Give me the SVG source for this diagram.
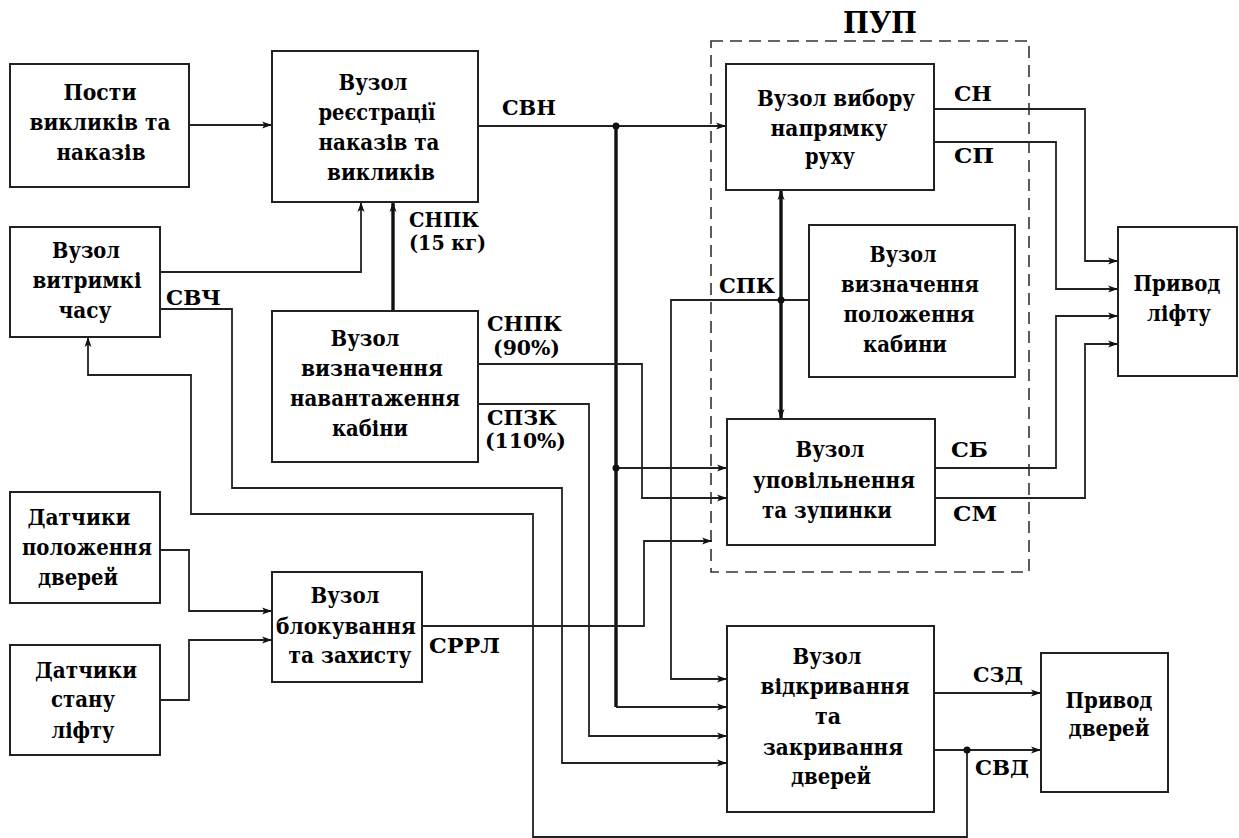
<svg xmlns="http://www.w3.org/2000/svg" width="1239" height="838" viewBox="0 0 1239 838">
  <style>
    .box { fill: #ffffff; stroke: #222222; stroke-width: 2; }
    .t { font-family: 'DejaVu Serif', 'Liberation Serif', serif; font-weight: 700; font-size: 22px; fill: #000000; text-anchor: middle; }
    .lbl { font-family: 'DejaVu Serif', 'Liberation Serif', serif; font-weight: 700; font-size: 21px; fill: #000000; }
    .title { font-family: 'DejaVu Serif', 'Liberation Serif', serif; font-weight: 700; font-size: 29px; fill: #000000; text-anchor: middle; }
    .w { fill: none; stroke: #222222; stroke-width: 1.8; }
    .bus { fill: none; stroke: #111111; stroke-width: 3.4; }
    .dot { fill: #111111; }
    .frame { fill: none; stroke: #333333; stroke-width: 1.6; stroke-dasharray: 12 7; }
  </style>
  <defs>
    <marker id="arr" viewBox="0 0 10 8" refX="10" refY="4" markerWidth="10" markerHeight="8" markerUnits="userSpaceOnUse" orient="auto-start-reverse">
      <path d="M0,0.5 L10,4 L0,7.5 L2.5,4 Z" fill="#111111"/>
    </marker>
  </defs>

  <rect width="1239" height="838" fill="#ffffff"/>

  <!-- control unit boundary -->
  <g id="pup">
    <rect class="frame" x="711" y="41" width="318" height="531"/>
    <text class="title" x="880" y="33" textLength="74" lengthAdjust="spacingAndGlyphs">ПУП</text>
  </g>

  <!-- connectors -->
  <g id="connectors">
    <path class="w" d="M189,125 H272" marker-end="url(#arr)"/>
    <path class="w" d="M478,126 H726" marker-end="url(#arr)"/>
    <path class="bus" d="M616,126 V707"/>
    <path class="w" d="M616,707 H727" marker-end="url(#arr)"/>
    <path class="w" d="M616,468 H727" marker-end="url(#arr)"/>
    <path class="w" d="M160,272 H361 V202" marker-end="url(#arr)"/>
    <path class="bus" d="M393,311 V202" marker-end="url(#arr)"/>
    <path class="w" d="M160,309 H232 V488 H562 V763 H727" marker-end="url(#arr)"/>
    <path class="w" d="M967,750 V837 H533 V514 H191 V375 H88 V337" marker-end="url(#arr)"/>
    <path class="w" d="M478,364 H642 V498 H727" marker-end="url(#arr)"/>
    <path class="w" d="M478,404 H589 V736 H727" marker-end="url(#arr)"/>
    <path class="w" d="M809,300 H671 V679 H727" marker-end="url(#arr)"/>
    <path class="bus" d="M781,190 V419" marker-start="url(#arr)" marker-end="url(#arr)"/>
    <path class="w" d="M934,109 H1085 V261 H1118" marker-end="url(#arr)"/>
    <path class="w" d="M934,142 H1056 V289 H1118" marker-end="url(#arr)"/>
    <path class="w" d="M935,468 H1056 V316 H1118" marker-end="url(#arr)"/>
    <path class="w" d="M935,498 H1085 V344 H1118" marker-end="url(#arr)"/>
    <path class="w" d="M422,626 H644 V541 H712" marker-end="url(#arr)"/>
    <path class="w" d="M160,550 H189 V611 H272" marker-end="url(#arr)"/>
    <path class="w" d="M160,700 H189 V640 H272" marker-end="url(#arr)"/>
    <path class="w" d="M934,693 H1041" marker-end="url(#arr)"/>
    <path class="w" d="M934,750 H1041" marker-end="url(#arr)"/>
    <circle class="dot" cx="616" cy="126" r="3.5"/>
    <circle class="dot" cx="616" cy="468" r="3.5"/>
    <circle class="dot" cx="781" cy="300" r="3.5"/>
    <circle class="dot" cx="967" cy="750" r="3.5"/>

    <!-- signal names -->
    <text class="lbl" x="502" y="115" textLength="54" lengthAdjust="spacingAndGlyphs">СВН</text>
    <text class="lbl" x="409" y="227" textLength="70" lengthAdjust="spacingAndGlyphs">СНПК</text>
    <text class="lbl" x="409" y="250" textLength="77" lengthAdjust="spacingAndGlyphs">(15 кг)</text>
    <text class="lbl" x="166" y="305" textLength="55" lengthAdjust="spacingAndGlyphs">СВЧ</text>
    <text class="lbl" x="487" y="331" textLength="75" lengthAdjust="spacingAndGlyphs">СНПК</text>
    <text class="lbl" x="493" y="355" textLength="67" lengthAdjust="spacingAndGlyphs">(90%)</text>
    <text class="lbl" x="487" y="425" textLength="70" lengthAdjust="spacingAndGlyphs">СПЗК</text>
    <text class="lbl" x="485" y="448" textLength="81" lengthAdjust="spacingAndGlyphs">(110%)</text>
    <text class="lbl" x="719" y="293" textLength="56" lengthAdjust="spacingAndGlyphs">СПК</text>
    <text class="lbl" x="954" y="101" textLength="38" lengthAdjust="spacingAndGlyphs">СН</text>
    <text class="lbl" x="954" y="163" textLength="40" lengthAdjust="spacingAndGlyphs">СП</text>
    <text class="lbl" x="951" y="457" textLength="37" lengthAdjust="spacingAndGlyphs">СБ</text>
    <text class="lbl" x="953" y="521" textLength="44" lengthAdjust="spacingAndGlyphs">СМ</text>
    <text class="lbl" x="429" y="653" textLength="71" lengthAdjust="spacingAndGlyphs">СРРЛ</text>
    <text class="lbl" x="973" y="682" textLength="50" lengthAdjust="spacingAndGlyphs">СЗД</text>
    <text class="lbl" x="975" y="775" textLength="54" lengthAdjust="spacingAndGlyphs">СВД</text>
  </g>

  <!-- blocks -->
  <g id="call-posts">
    <rect class="box" x="10" y="64" width="179" height="123"/>
    <text class="t" x="100" y="100" textLength="73" lengthAdjust="spacingAndGlyphs">Пости</text>
    <text class="t" x="100" y="130" textLength="141" lengthAdjust="spacingAndGlyphs">викликів та</text>
    <text class="t" x="101" y="160" textLength="89" lengthAdjust="spacingAndGlyphs">наказів</text>
  </g>

  <g id="registration">
    <rect class="box" x="272" y="51" width="206" height="151"/>
    <text class="t" x="373" y="90" textLength="69" lengthAdjust="spacingAndGlyphs">Вузол</text>
    <text class="t" x="377" y="120" textLength="117" lengthAdjust="spacingAndGlyphs">реєстрації</text>
    <text class="t" x="379" y="150" textLength="121" lengthAdjust="spacingAndGlyphs">наказів та</text>
    <text class="t" x="381" y="180" textLength="108" lengthAdjust="spacingAndGlyphs">викликів</text>
  </g>

  <g id="time-delay">
    <rect class="box" x="10" y="227" width="150" height="110"/>
    <text class="t" x="86" y="258" textLength="68" lengthAdjust="spacingAndGlyphs">Вузол</text>
    <text class="t" x="87" y="288" textLength="109" lengthAdjust="spacingAndGlyphs">витримкі</text>
    <text class="t" x="85" y="318" textLength="53" lengthAdjust="spacingAndGlyphs">часу</text>
  </g>

  <g id="load">
    <rect class="box" x="272" y="311" width="206" height="151"/>
    <text class="t" x="365" y="346" textLength="69" lengthAdjust="spacingAndGlyphs">Вузол</text>
    <text class="t" x="372" y="376" textLength="142" lengthAdjust="spacingAndGlyphs">визначення</text>
    <text class="t" x="375" y="406" textLength="170" lengthAdjust="spacingAndGlyphs">навантаження</text>
    <text class="t" x="370" y="436" textLength="76" lengthAdjust="spacingAndGlyphs">кабіни</text>
  </g>

  <g id="direction">
    <rect class="box" x="726" y="64" width="208" height="126"/>
    <text class="t" x="836" y="106" textLength="158" lengthAdjust="spacingAndGlyphs">Вузол вибору</text>
    <text class="t" x="829" y="136" textLength="117" lengthAdjust="spacingAndGlyphs">напрямку</text>
    <text class="t" x="830" y="164" textLength="50" lengthAdjust="spacingAndGlyphs">руху</text>
  </g>

  <g id="position">
    <rect class="box" x="809" y="225" width="206" height="152"/>
    <text class="t" x="903" y="262" textLength="67" lengthAdjust="spacingAndGlyphs">Вузол</text>
    <text class="t" x="910" y="292" textLength="138" lengthAdjust="spacingAndGlyphs">визначення</text>
    <text class="t" x="909" y="322" textLength="131" lengthAdjust="spacingAndGlyphs">положення</text>
    <text class="t" x="905" y="352" textLength="84" lengthAdjust="spacingAndGlyphs">кабини</text>
  </g>

  <g id="lift-drive">
    <rect class="box" x="1118" y="227" width="119" height="149"/>
    <text class="t" x="1177" y="291" textLength="87" lengthAdjust="spacingAndGlyphs">Привод</text>
    <text class="t" x="1179" y="321" textLength="64" lengthAdjust="spacingAndGlyphs">ліфту</text>
  </g>

  <g id="slowdown">
    <rect class="box" x="727" y="419" width="208" height="126"/>
    <text class="t" x="830" y="457" textLength="69" lengthAdjust="spacingAndGlyphs">Вузол</text>
    <text class="t" x="834" y="488" textLength="162" lengthAdjust="spacingAndGlyphs">уповільнення</text>
    <text class="t" x="827" y="518" textLength="130" lengthAdjust="spacingAndGlyphs">та зупинки</text>
  </g>

  <g id="door-sensors">
    <rect class="box" x="10" y="492" width="150" height="111"/>
    <text class="t" x="79" y="525" textLength="103" lengthAdjust="spacingAndGlyphs">Датчики</text>
    <text class="t" x="87" y="555" textLength="130" lengthAdjust="spacingAndGlyphs">положення</text>
    <text class="t" x="78" y="585" textLength="80" lengthAdjust="spacingAndGlyphs">дверей</text>
  </g>

  <g id="state-sensors">
    <rect class="box" x="10" y="645" width="150" height="110"/>
    <text class="t" x="86" y="678" textLength="102" lengthAdjust="spacingAndGlyphs">Датчики</text>
    <text class="t" x="83" y="707" textLength="64" lengthAdjust="spacingAndGlyphs">стану</text>
    <text class="t" x="83" y="738" textLength="63" lengthAdjust="spacingAndGlyphs">ліфту</text>
  </g>

  <g id="interlock">
    <rect class="box" x="272" y="572" width="150" height="110"/>
    <text class="t" x="345" y="603" textLength="69" lengthAdjust="spacingAndGlyphs">Вузол</text>
    <text class="t" x="346" y="634" textLength="140" lengthAdjust="spacingAndGlyphs">блокування</text>
    <text class="t" x="350" y="663" textLength="123" lengthAdjust="spacingAndGlyphs">та захисту</text>
  </g>

  <g id="doors-control">
    <rect class="box" x="727" y="626" width="207" height="186"/>
    <text class="t" x="827" y="664" textLength="69" lengthAdjust="spacingAndGlyphs">Вузол</text>
    <text class="t" x="835" y="694" textLength="149" lengthAdjust="spacingAndGlyphs">відкривання</text>
    <text class="t" x="828" y="724" textLength="26" lengthAdjust="spacingAndGlyphs">та</text>
    <text class="t" x="833" y="755" textLength="140" lengthAdjust="spacingAndGlyphs">закривання</text>
    <text class="t" x="831" y="784" textLength="80" lengthAdjust="spacingAndGlyphs">дверей</text>
  </g>

  <g id="door-drive">
    <rect class="box" x="1041" y="653" width="127" height="139"/>
    <text class="t" x="1109" y="708" textLength="87" lengthAdjust="spacingAndGlyphs">Привод</text>
    <text class="t" x="1109" y="736" textLength="81" lengthAdjust="spacingAndGlyphs">дверей</text>
  </g>
</svg>
